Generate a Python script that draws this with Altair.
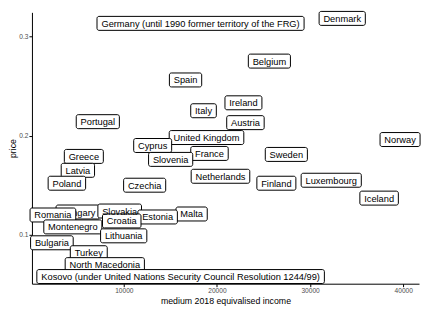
import altair as alt
import pandas as pd

# Data (label positions)
countries = [
    "Hungary",
    "Germany (until 1990 former territory of the FRG)", "Denmark", "Belgium", "Spain",
    "Ireland", "Italy", "Austria", "Portugal", "United Kingdom", "Norway", "Cyprus",
    "France", "Greece", "Sweden", "Slovenia", "Latvia", "Netherlands", "Finland",
    "Luxembourg", "Poland", "Czechia", "Iceland", "Slovakia", "Romania", "Malta",
    "Estonia", "Croatia", "Montenegro", "Lithuania", "Bulgaria", "Turkey",
    "North Macedonia",
    "Kosovo (under United Nations Security Council Resolution 1244/99)",
]
income = [
    5070,
    18240, 33450, 25630, 16630,
    22845, 18560, 23060, 7210, 18880, 39660, 13100,
    19200, 5710, 27450, 15030, 5070, 20380, 26380,
    32270, 3890, 12240, 37410, 9560, 2390, 17280,
    13630, 9780, 4530, 9990, 2280, 6240,
    7960,
    16100,
]
price = [
    0.123,
    0.313, 0.318, 0.275, 0.256,
    0.233, 0.225, 0.213, 0.214, 0.198, 0.196, 0.190,
    0.182, 0.179, 0.181, 0.176, 0.165, 0.159, 0.152,
    0.155, 0.152, 0.150, 0.137, 0.124, 0.120, 0.121,
    0.118, 0.114, 0.108, 0.099, 0.092, 0.082,
    0.070,
    0.058,
]
x_ticks = [10000, 20000, 30000, 40000]
y_ticks = [0.1, 0.2, 0.3]

# Layout
W, H = 388, 272
X_DOM = [139, 41694]
Y_DOM = [0.0508, 0.3241]
FS = 9.3
PAD_X = 4.3
HALF_H = 7

# Arial / Liberation Sans advance widths (per 1000 em)
AW = {' ': 278, '(': 333, ')': 333, '/': 278, '.': 278, '-': 333}
for c in "0123456789": AW[c] = 556
lw = dict(a=556, b=556, c=500, d=556, e=556, f=278, g=556, h=556, i=222, j=222,
          k=500, l=222, m=833, n=556, o=556, p=556, q=556, r=333, s=500, t=278,
          u=556, v=500, w=722, x=500, y=500, z=500)
uw = dict(A=667, B=667, C=722, D=722, E=667, F=611, G=778, H=722, I=278, J=500,
          K=667, L=556, M=833, N=722, O=778, P=667, Q=778, R=722, S=667, T=611,
          U=722, V=667, W=944, X=667, Y=667, Z=611)
AW.update(lw); AW.update(uw)

def text_px(s):
    return sum(AW.get(ch, 556) for ch in s) * FS / 1000.0

xu = (X_DOM[1] - X_DOM[0]) / W
yu = (Y_DOM[1] - Y_DOM[0]) / H

df = pd.DataFrame({"country": countries, "income": income, "price": price})
hw = df["country"].map(text_px) / 2 + PAD_X
df["x_lo"] = df["income"] - hw * xu
df["x_hi"] = df["income"] + hw * xu
df["y_lo"] = df["price"] - HALF_H * yu
df["y_hi"] = df["price"] + HALF_H * yu

xs = alt.Scale(domain=X_DOM, nice=False, zero=False)
ys = alt.Scale(domain=Y_DOM, nice=False, zero=False)

common = dict(grid=False, labelFontSize=6.6, labelColor="#4d4d4d", labelPadding=1,
              tickSize=3, tickColor="black", tickWidth=1, domainColor="black",
              domainWidth=1, titleFontSize=8.8, titleFontWeight="normal",
              titleColor="black", labelFont="Liberation Sans",
              titleFont="Liberation Sans")
x_axis = alt.Axis(values=x_ticks, format="d", title="medium 2018 equivalised income",
                  titlePadding=2, labelFlush=False, **common)
y_axis = alt.Axis(values=y_ticks, format=".1f", title="price", titlePadding=1,
                  **common)

def label_layers(data):
    base = alt.Chart(data)
    rect = base.mark_rect(fill="white", stroke="black", strokeWidth=1, cornerRadius=2).encode(
        x=alt.X("x_lo:Q", scale=xs, axis=x_axis),
        x2="x_hi:Q",
        y=alt.Y("y_lo:Q", scale=ys, axis=y_axis),
        y2="y_hi:Q",
    )
    txt = base.mark_text(font="Liberation Sans", fontSize=FS, color="black",
                         baseline="middle", align="center", dy=0.5).encode(
        x=alt.X("income:Q", scale=xs, axis=x_axis),
        y=alt.Y("price:Q", scale=ys, axis=y_axis),
        text="country:N",
    )
    return [rect, txt]

split = countries.index("Hungary") + 1
layers = label_layers(df.iloc[:split]) + label_layers(df.iloc[split:])

chart = alt.layer(*layers).properties(
    width=W, height=H,
    background="white",
    autosize=alt.AutoSizeParams(type="none"),
    padding={"left": 24, "top": 4, "right": 4, "bottom": 22},
).configure_view(stroke=None)

chart.save("out.html", embed_options={"renderer": "svg", "actions": False})
